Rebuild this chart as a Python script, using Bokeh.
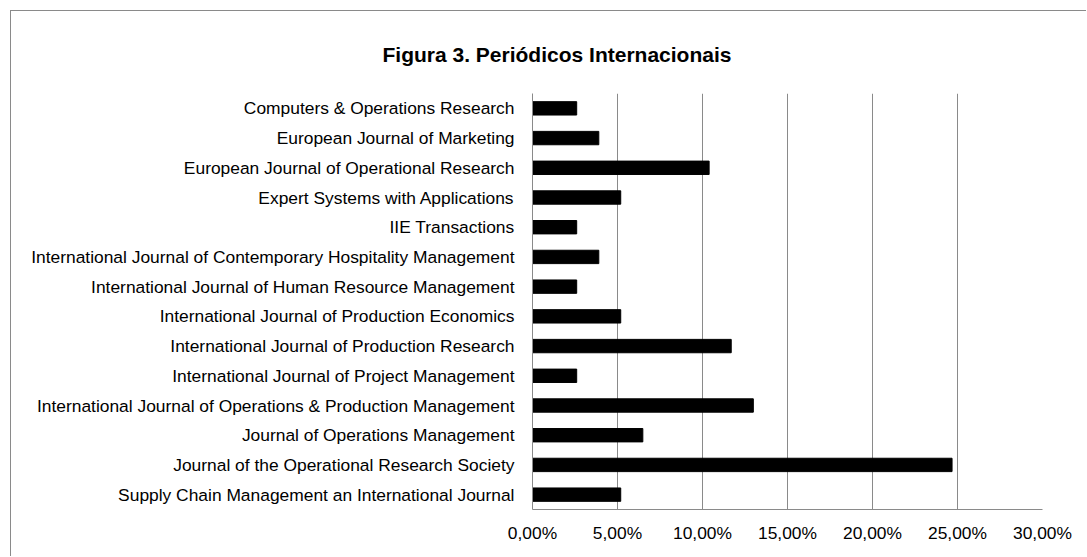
from bokeh.plotting import figure
from bokeh.models import FactorRange, Range1d, FixedTicker
from bokeh.embed import file_html
from bokeh.resources import INLINE

journals = [
    "Computers & Operations Research",
    "European Journal of Marketing",
    "European Journal of Operational Research",
    "Expert Systems with Applications",
    "IIE Transactions",
    "International Journal of Contemporary Hospitality Management",
    "International Journal of Human Resource Management",
    "International Journal of Production Economics",
    "International Journal of Production Research",
    "International Journal of Project Management",
    "International Journal of Operations & Production Management",
    "Journal of Operations Management",
    "Journal of the Operational Research Society",
    "Supply Chain Management an International Journal",
]
shares = [2.60, 3.90, 10.39, 5.19, 2.60, 3.90, 2.60, 5.19, 11.69, 2.60, 12.99, 6.49, 24.68, 5.19]
tick_values = [0, 5, 10, 15, 20, 25, 30]
tick_labels = ["0,00%", "5,00%", "10,00%", "15,00%", "20,00%", "25,00%", "30,00%"]
title_text = "Figura 3. Periódicos Internacionais"

FONT = "Liberation Sans"
GRID = "#8a8a8a"

p = figure(
    width=1076, height=546,
    y_range=FactorRange(factors=list(reversed(journals)), range_padding=0),
    x_range=Range1d(0, 30),
    output_backend="svg", toolbar_location=None,
    min_border_left=521, min_border_right=45, min_border_top=82, min_border_bottom=48,
    margin=(10, 0, 0, 10),
)
p.styles = {"border-left": f"1px solid {GRID}", "border-top": f"1px solid {GRID}"}

p.hbar(y=journals, right=shares, left=0, height=0.45, color="black")

p.title.text = title_text
p.title.align = "left"
p.title.offset = -150
p.title.standoff = 56
p.title.text_font = FONT
p.title.text_font_size = "21px"
p.title.text_font_style = "bold"
p.title.text_color = "black"

p.outline_line_color = None
p.ygrid.grid_line_color = None
p.xgrid.grid_line_color = GRID
p.xgrid.grid_line_width = 1

p.xaxis.ticker = FixedTicker(ticks=tick_values)
p.xaxis.major_label_overrides = {v: l for v, l in zip(tick_values, tick_labels)}
p.xaxis.axis_line_color = GRID
p.xaxis.major_tick_line_color = None
p.xaxis.minor_tick_line_color = None
p.xaxis.major_label_text_font = FONT
p.xaxis.major_label_text_font_size = "17.4px"
p.xaxis.major_label_text_color = "black"
p.xaxis.major_label_standoff = 7

p.yaxis.axis_line_color = GRID
p.yaxis.major_tick_line_color = None
p.yaxis.minor_tick_line_color = None
p.yaxis.major_label_text_font = FONT
p.yaxis.major_label_text_font_size = "17.4px"
p.yaxis.major_label_text_color = "black"
p.yaxis.major_label_standoff = 12

open("out.html", "w").write(file_html(p, INLINE))
